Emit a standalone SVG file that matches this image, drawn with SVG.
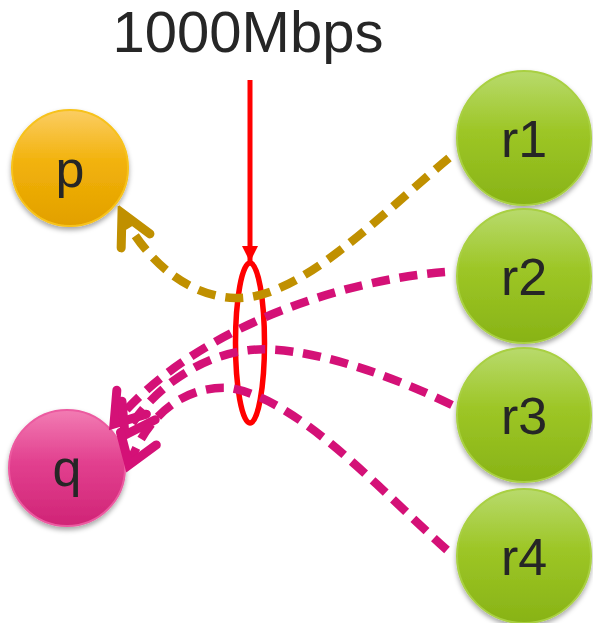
<svg xmlns="http://www.w3.org/2000/svg" width="593" height="623" viewBox="0 0 593 623">
  <defs>
    <linearGradient id="gOrange" x1="0" y1="0" x2="0" y2="1">
      <stop offset="0" stop-color="#fbcd63"/>
      <stop offset="0.45" stop-color="#f2b20a"/>
      <stop offset="1" stop-color="#e2a000"/>
    </linearGradient>
    <linearGradient id="gGreen" x1="0" y1="0" x2="0" y2="1">
      <stop offset="0" stop-color="#b8da6c"/>
      <stop offset="0.45" stop-color="#9dc626"/>
      <stop offset="1" stop-color="#88b316"/>
    </linearGradient>
    <linearGradient id="gPink" x1="0" y1="0" x2="0" y2="1">
      <stop offset="0" stop-color="#f27cb3"/>
      <stop offset="0.45" stop-color="#e2408f"/>
      <stop offset="1" stop-color="#d02476"/>
    </linearGradient>
    <filter id="shadow" x="-20%" y="-20%" width="140%" height="150%">
      <feDropShadow dx="0" dy="3" stdDeviation="2.5" flood-color="#000" flood-opacity="0.35"/>
    </filter>
    <marker id="redHead" viewBox="0 0 16 16" refX="16" refY="8" markerWidth="16" markerHeight="16" markerUnits="userSpaceOnUse" orient="auto">
      <path d="M0,0 L16,8 L0,16 Z" fill="#ff0000"/>
    </marker>
    <marker id="goldHead" viewBox="-42 -28 50 56" refX="0" refY="0" markerWidth="50" markerHeight="56" markerUnits="userSpaceOnUse" orient="auto">
      <path d="M-31,-16 L0,0 L-31,16" fill="none" stroke="#c09000" stroke-width="9" stroke-linecap="round" stroke-linejoin="miter"/>
    </marker>
    <marker id="pinkHead" viewBox="-42 -28 50 56" refX="0" refY="0" markerWidth="50" markerHeight="56" markerUnits="userSpaceOnUse" orient="auto">
      <path d="M-28,-19 L0,0 L-28,19" fill="none" stroke="#d41177" stroke-width="9" stroke-linecap="round" stroke-linejoin="miter"/>
    </marker>
  </defs>
  <style>
    .label { font-family: "Liberation Sans", Arial, sans-serif; fill: #262626; text-anchor: middle; }
    .node-label { font-size: 52px; }
    .title { font-size: 58px; }
    .p-node { fill: url(#gOrange); stroke: #f7c21a; stroke-width: 2; filter: url(#shadow); }
    .r-node { fill: url(#gGreen); stroke: #a9d042; stroke-width: 2; filter: url(#shadow); }
    .q-node { fill: url(#gPink); stroke: #ec5aa0; stroke-width: 2; filter: url(#shadow); }
    .flow { fill: none; stroke-width: 8.5; stroke-dasharray: 18 10; }
    .gold { stroke: #c09000; }
    .pink { stroke: #d41177; }
  </style>

  <rect width="593" height="623" fill="#ffffff"/>

  <text class="label title" x="248" y="52">1000Mbps</text>

  <!-- link capacity marker: arrow into the bottleneck ring -->
  <g id="bottleneck">
    <line x1="250" y1="80" x2="250" y2="262" stroke="#ff0000" stroke-width="5" marker-end="url(#redHead)"/>
    <ellipse cx="250" cy="343" rx="14.5" ry="80" fill="none" stroke="#ff0000" stroke-width="5.5"/>
  </g>

  <g id="p">
    <circle class="p-node" cx="70" cy="168" r="58"/>
    <text class="label node-label" x="70" y="187">p</text>
  </g>
  <g id="q">
    <circle class="q-node" cx="67" cy="468" r="58"/>
    <text class="label node-label" x="67" y="486">q</text>
  </g>
  <g id="r1">
    <circle class="r-node" cx="524" cy="138" r="67"/>
    <text class="label node-label" x="524" y="157">r1</text>
  </g>
  <g id="r2">
    <circle class="r-node" cx="524" cy="276" r="67"/>
    <text class="label node-label" x="524" y="295">r2</text>
  </g>
  <g id="r3">
    <circle class="r-node" cx="524" cy="415" r="67"/>
    <text class="label node-label" x="524" y="434">r3</text>
  </g>
  <g id="r4">
    <circle class="r-node" cx="524" cy="556" r="67"/>
    <text class="label node-label" x="524" y="575">r4</text>
  </g>

  <g id="connectors">
    <path class="flow gold" d="M449,158 C380,215 300,300 235,298 C180,296 140,250 122,213" marker-end="url(#goldHead)"/>
    <path class="flow pink" d="M445,272 C340,280 190,330 114,424" marker-end="url(#pinkHead)"/>
    <path class="flow pink" d="M452,405 C380,370 300,345 250,350 C200,355 150,390 125,435" marker-end="url(#pinkHead)"/>
    <path class="flow pink" d="M447,550 C380,490 300,400 230,388 C180,385 145,420 129,465" marker-end="url(#pinkHead)"/>
  </g>
</svg>
